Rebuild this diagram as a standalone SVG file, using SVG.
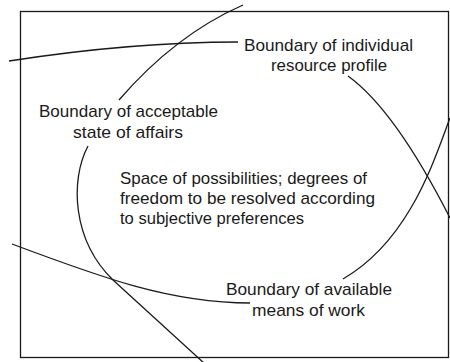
<svg xmlns="http://www.w3.org/2000/svg" width="450" height="362" viewBox="0 0 450 362">
<style>
  .ln{fill:none;stroke:#1a1a1a;stroke-width:1.3}
  text{font-family:"Liberation Sans",Arial,sans-serif;font-size:17px;fill:#1a1a1a}
  .c{text-anchor:middle}
</style>
<rect x="20.5" y="11.5" width="428" height="346" fill="#fff" stroke="#1a1a1a" stroke-width="1.3"/>
<g id="connectors">
  <path class="ln" d="M243,5 Q175,35 119,100"/>
  <path class="ln" d="M9,61 C80,50 160,42 238,42"/>
  <path class="ln" d="M348,76 Q395,110 450,218"/>
  <path class="ln" d="M450,118 C434,160 410,240 343,279"/>
  <path class="ln" d="M88,146 C70,180 72,240 113,280 L205,364"/>
  <path class="ln" d="M12,244 C100,277 170,303 250,303"/>
</g>
<g id="individual-resource-profile">
  <text class="c" x="328.5" y="51" textLength="169" lengthAdjust="spacingAndGlyphs">Boundary of individual</text>
  <text class="c" x="329" y="71" textLength="116" lengthAdjust="spacingAndGlyphs">resource profile</text>
</g>
<g id="acceptable-state">
  <text class="c" x="128.5" y="117" textLength="179" lengthAdjust="spacingAndGlyphs">Boundary of acceptable</text>
  <text class="c" x="128" y="137.5" textLength="110" lengthAdjust="spacingAndGlyphs">state of affairs</text>
</g>
<g id="space-of-possibilities">
  <text x="120" y="184" textLength="247" lengthAdjust="spacingAndGlyphs">Space of possibilities; degrees of</text>
  <text x="120" y="204" textLength="255" lengthAdjust="spacingAndGlyphs">freedom to be resolved according</text>
  <text x="120" y="224" textLength="184" lengthAdjust="spacingAndGlyphs">to subjective preferences</text>
</g>
<g id="available-means">
  <text class="c" x="309" y="295" textLength="166" lengthAdjust="spacingAndGlyphs">Boundary of available</text>
  <text class="c" x="308.5" y="316" textLength="113" lengthAdjust="spacingAndGlyphs">means of work</text>
</g>
</svg>
